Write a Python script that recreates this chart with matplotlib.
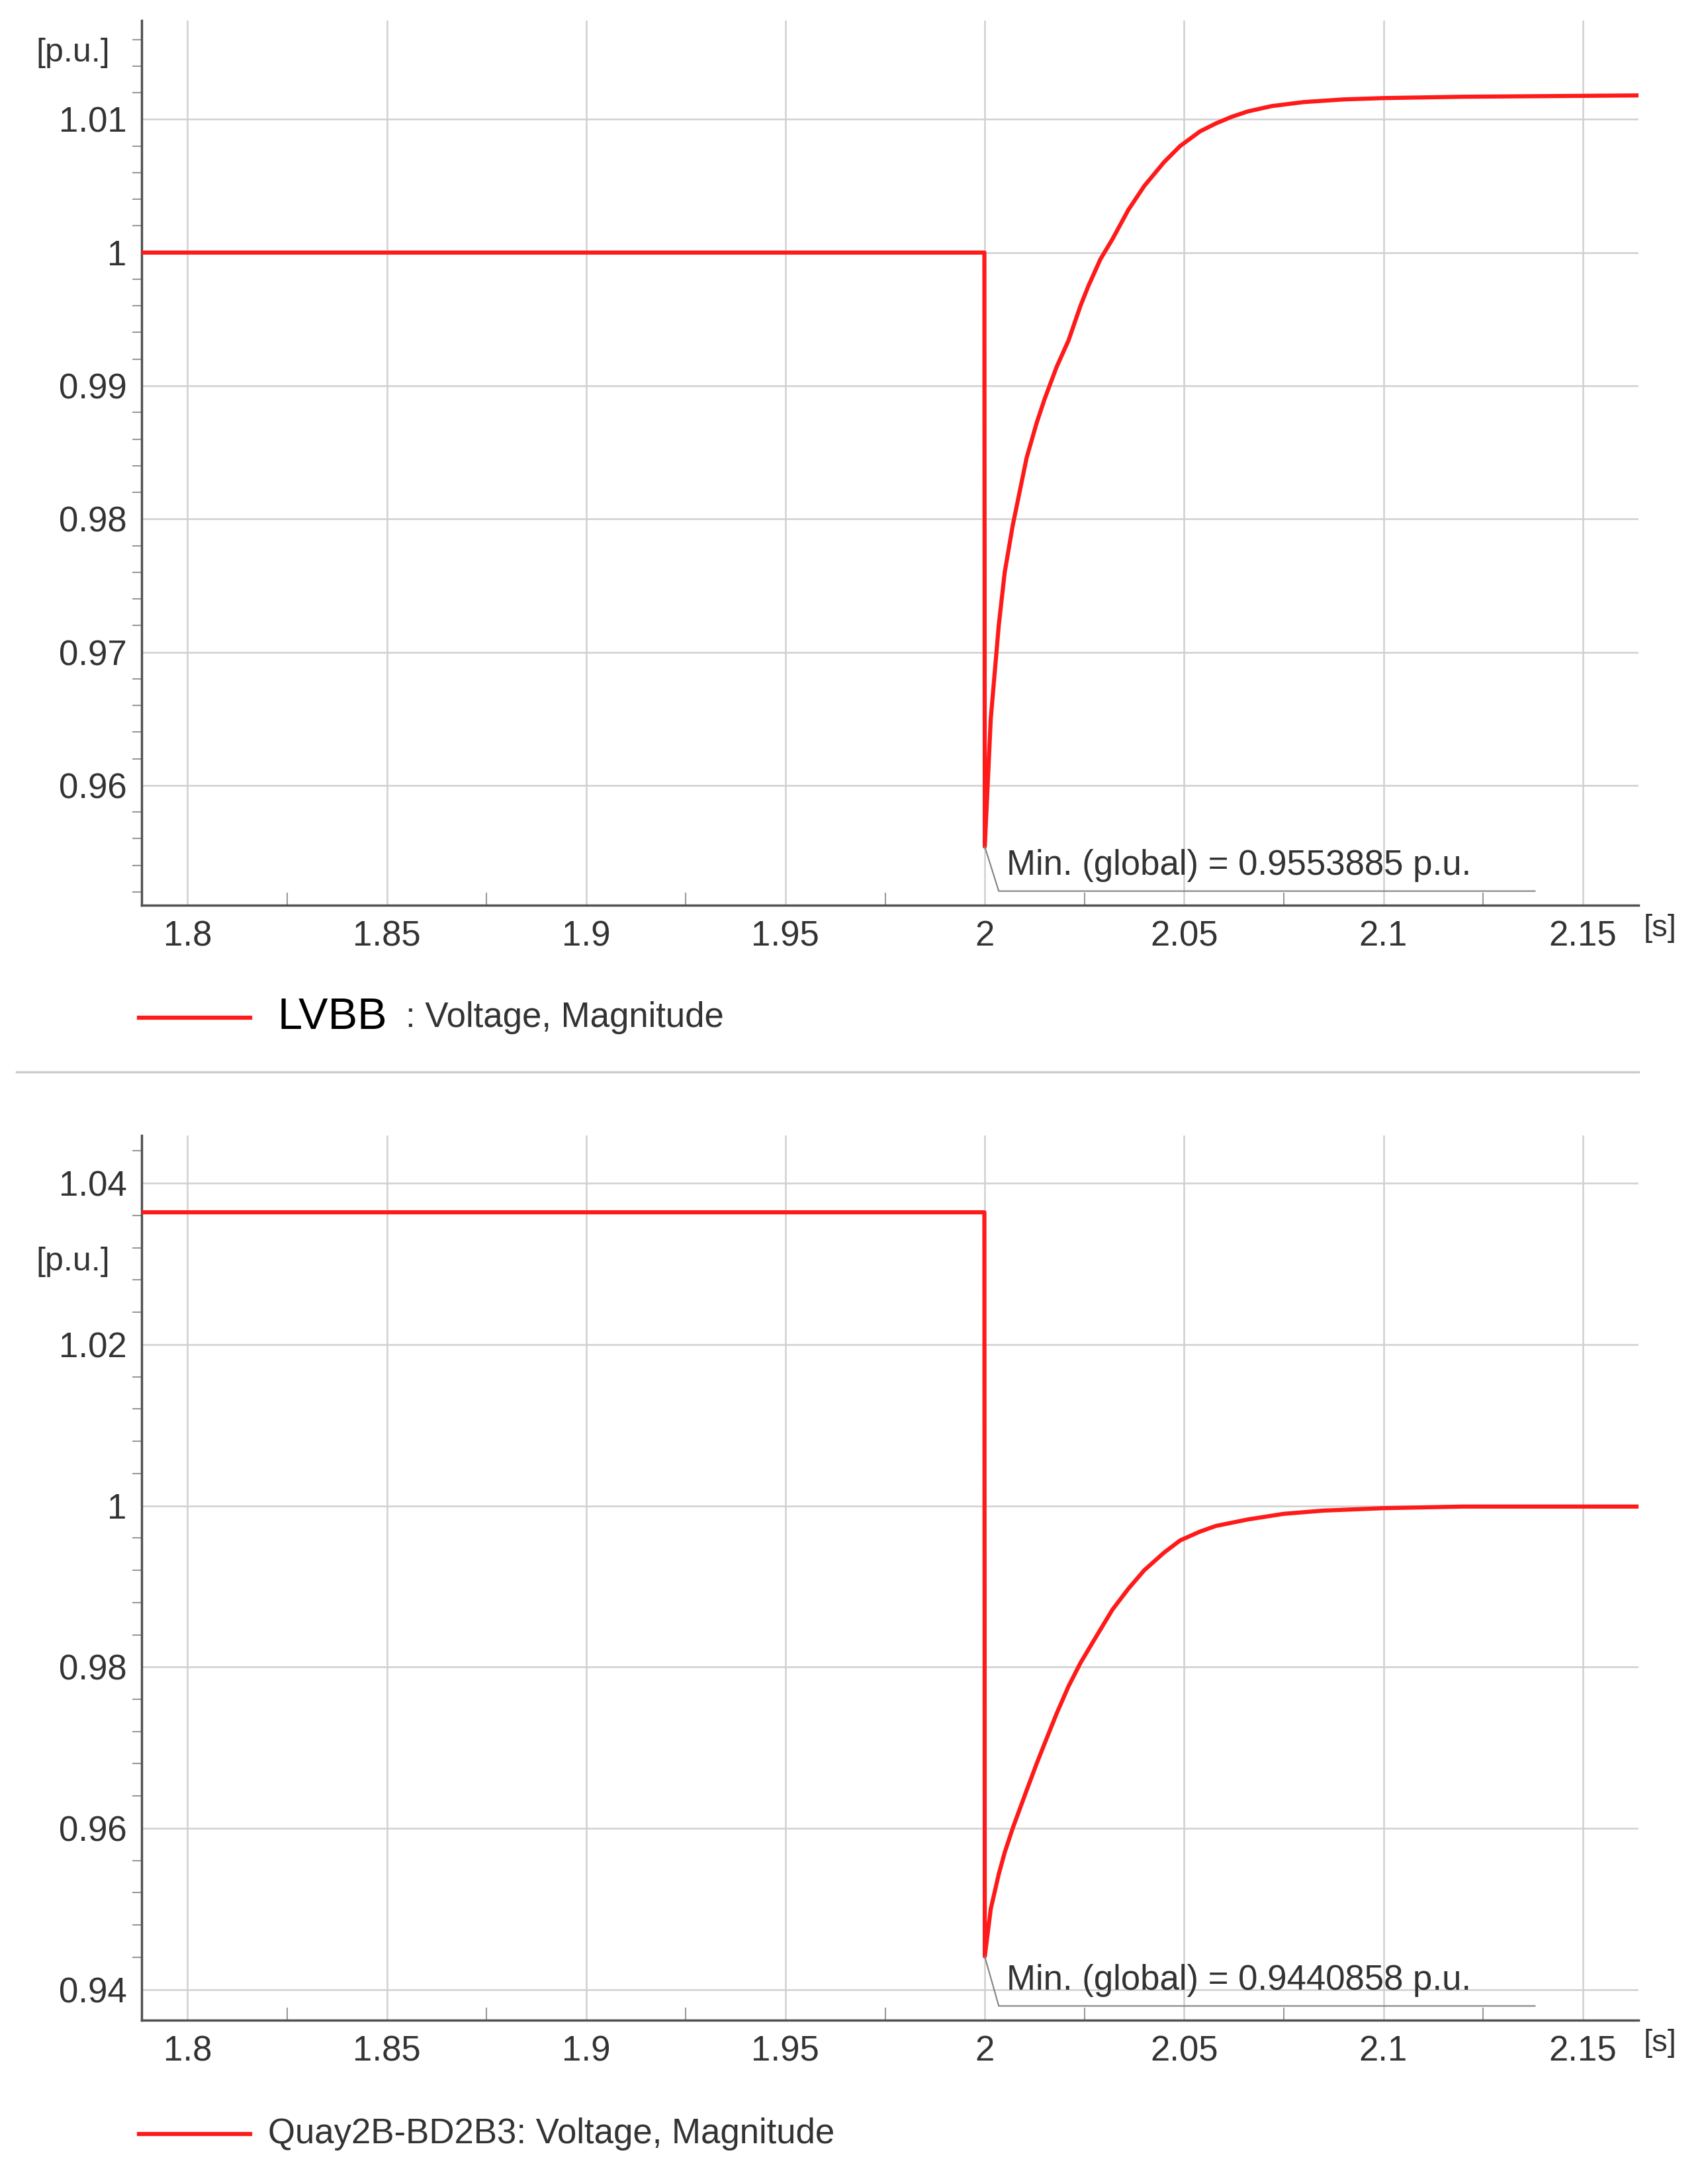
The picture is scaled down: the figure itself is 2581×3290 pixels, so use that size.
import matplotlib
matplotlib.use("Agg")
import matplotlib.pyplot as plt
from matplotlib.ticker import MultipleLocator
from matplotlib.lines import Line2D

plt.rcParams['font.family'] = ['Liberation Sans', 'DejaVu Sans']

# Top: LVBB
t1 = [1.7885, 1.9999, 2.0, 2.0015, 2.0035, 2.005, 2.007, 2.0105, 2.013, 2.015, 2.018, 2.021, 2.024, 2.026, 2.029, 2.032, 2.036, 2.04, 2.045, 2.049, 2.054, 2.058, 2.062, 2.066, 2.072, 2.08, 2.09, 2.1, 2.12, 2.164]
v1 = [1.0, 1.0, 0.9554, 0.9650, 0.9720, 0.9760, 0.9795, 0.9846, 0.9872, 0.9890, 0.9914, 0.9934, 0.9960, 0.9975, 0.9995, 1.0010, 1.0032, 1.0050, 1.0068, 1.0080, 1.0091, 1.0097, 1.0102, 1.0106, 1.0110, 1.0113, 1.0115, 1.0116, 1.0117, 1.0118]
# Bottom: Quay2B-BD2B3
t2 = [1.7885, 1.9999, 2.0, 2.0015, 2.0035, 2.005, 2.007, 2.0105, 2.013, 2.015, 2.018, 2.021, 2.024, 2.027, 2.032, 2.036, 2.04, 2.045, 2.049, 2.054, 2.058, 2.066, 2.075, 2.085, 2.1, 2.12, 2.164]
v2 = [1.0364, 1.0364, 0.9441, 0.9500, 0.9543, 0.9570, 0.9600, 0.9647, 0.9680, 0.9705, 0.9742, 0.9776, 0.9805, 0.9830, 0.9871, 0.9897, 0.9920, 0.9942, 0.9957, 0.9968, 0.9975, 0.9983, 0.9990, 0.9994, 0.9997, 0.9999, 0.9999]
xticks = [1.8, 1.85, 1.9, 1.95, 2.0, 2.05, 2.1, 2.15]
xlabels = ['1.8', '1.85', '1.9', '1.95', '2', '2.05', '2.1', '2.15']
y1ticks = [0.96, 0.97, 0.98, 0.99, 1.0, 1.01]
y1labels = ['0.96', '0.97', '0.98', '0.99', '1', '1.01']
y2ticks = [0.94, 0.96, 0.98, 1.0, 1.02, 1.04]
y2labels = ['0.94', '0.96', '0.98', '1', '1.02', '1.04']
min1 = 0.9553885
min2 = 0.9440858

W, H = 1230, 1568
fig = plt.figure(figsize=(25.81, 32.90), dpi=100)
FS = 38
red = '#ff1a1a'

def make_ax(top, bottom, ylim, yt, yl, t, v, mval, minor):
    ax = fig.add_axes([102/W, 1-bottom/H, (1180-102)/W, (bottom-top)/H])
    ax.plot(t, v, color=red, lw=4.5, zorder=3)
    ax.set_xlim(1.7885, 2.164)
    ax.set_ylim(*ylim)
    ax.set_xticks(xticks); ax.set_xticklabels(xlabels)
    ax.set_yticks(yt); ax.set_yticklabels(yl)
    ax.xaxis.set_minor_locator(MultipleLocator(0.025))
    ax.yaxis.set_minor_locator(MultipleLocator(minor))
    ax.grid(True, which='major', color='#d0d0d0', lw=1.8)
    for s in ['top', 'right']:
        ax.spines[s].set_visible(False)
    for s in ['left', 'bottom']:
        ax.spines[s].set_color('#505050'); ax.spines[s].set_linewidth(2.5)
    ax.tick_params(which='major', length=0, labelsize=FS, colors='#333333', pad=16)
    ax.tick_params(which='minor', direction='in', length=14, width=1.5, color='#999999')
    ax.tick_params(axis='y', which='minor', direction='out', length=10)
    y0, y1 = ylim
    yb = y0 + (y1 - y0) * 0.016
    ax.plot([2.0, 2.0035, 2.138], [mval, yb, yb], color='#808080', lw=1.5, zorder=4)
    ax.text(2.0055, yb + (y1 - y0) * 0.010, 'Min. (global) = %.7f p.u.' % mval,
            fontsize=FS, color='#333333', va='bottom', ha='left')
    ax.text(1.0035, -0.01, '[s]', transform=ax.transAxes, fontsize=FS-4, color='#333333', va='top', ha='left')
    return ax

make_ax(15, 652, (0.9510, 1.0174), y1ticks, y1labels, t1, v1, min1, 0.002)
make_ax(818, 1455, (0.9362, 1.0459), y2ticks, y2labels, t2, v2, min2, 0.004)

fig.text(26/W, 1-38/H, '[p.u.]', fontsize=FS-2, color='#333333', va='center')
fig.text(26/W, 1-909/H, '[p.u.]', fontsize=FS-2, color='#333333', va='center')

for y in [733, 1537]:
    fig.add_artist(Line2D([100/W, 180/W], [1-y/H, 1-y/H], color=red, lw=4.5))
fig.text(200/W, 1-733/H, 'LVBB', fontsize=FS+10, color='black', va='center')
fig.text(292/W, 1-733/H, ': Voltage, Magnitude', fontsize=FS, color='#333333', va='center')
fig.text(193/W, 1-1537/H, 'Quay2B-BD2B3: Voltage, Magnitude', fontsize=FS, color='#333333', va='center')
fig.add_artist(Line2D([12/W, 1180/W], [1-772/H, 1-772/H], color='#cccccc', lw=2.5))

fig.savefig('out.png', dpi=100, facecolor='white')
